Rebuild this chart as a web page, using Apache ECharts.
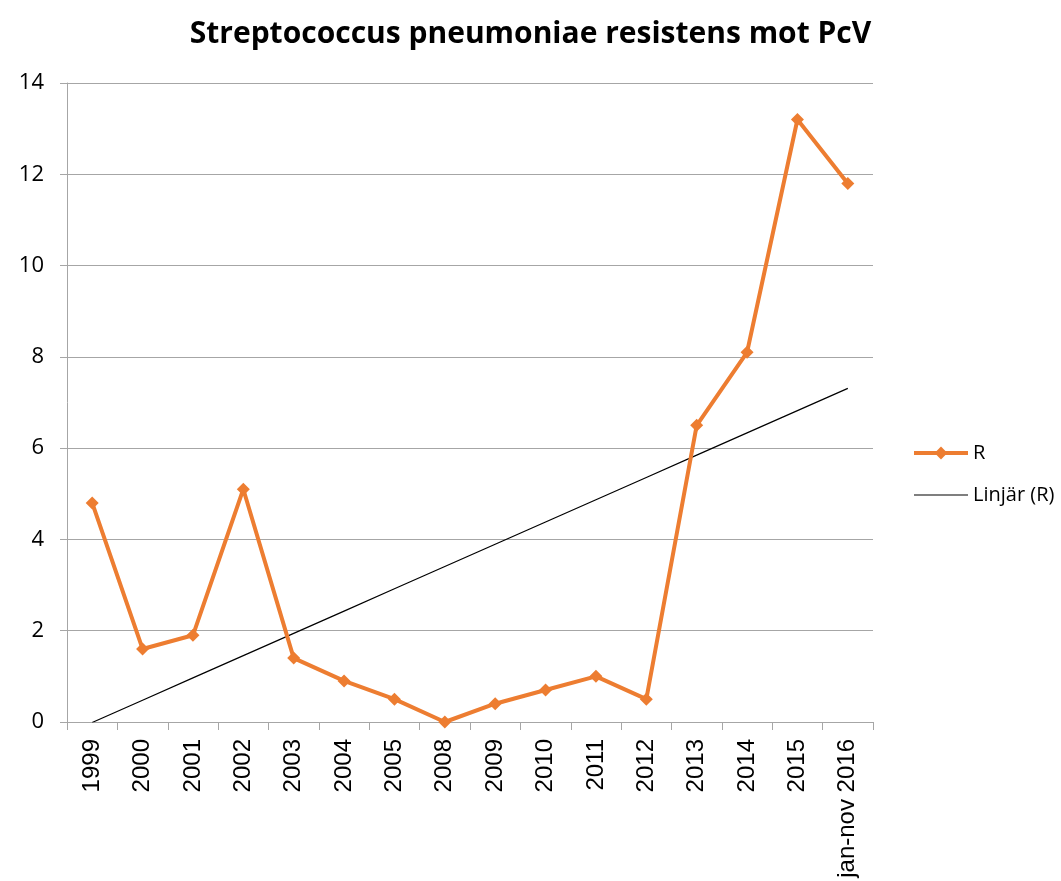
<!DOCTYPE html>
<html>
<head>
<meta charset="utf-8">
<script src="https://cdn.jsdelivr.net/npm/echarts@6/dist/echarts.min.js"></script>
<style>
  html, body { margin: 0; padding: 0; background: #fff; }
  #chart { width: 1061px; height: 881px; }
</style>
</head>
<body>
<div id="chart"></div>
<script>
  var years = ['1999', '2000', '2001', '2002', '2003', '2004', '2005', '2008',
    '2009', '2010', '2011', '2012', '2013', '2014', '2015', 'jan-nov 2016']
  var rValues = [4.8, 1.6, 1.9, 5.1, 1.4, 0.9, 0.5, 0.0, 0.4, 0.7, 1.0, 0.5, 6.5, 8.1, 13.2, 11.8]

  // linjär trendlinje (minsta kvadrat), som Excel
  function trend(vals) {
    var n = vals.length, sx = 0, sy = 0, sxy = 0, sxx = 0
    for (var i = 0; i < n; i++) {
      var x = i + 1
      sx += x; sy += vals[i]; sxy += x * vals[i]; sxx += x * x
    }
    var k = (n * sxy - sx * sy) / (n * sxx - sx * sx)
    var m = (sy - k * sx) / n
    return vals.map(function (v, i) { return +(m + k * (i + 1)).toFixed(3) })
  }

  var myChart = echarts.init(document.getElementById('chart'))
  var option = {
    animation: false,
    title: {
      text: 'Streptococcus pneumoniae resistens mot PcV',
      left: 'center',
      top: 14,
      textStyle: {
        fontFamily: 'Open Sans',
        fontWeight: 'bold',
        fontSize: 30,
        color: '#000'
      }
    },
    legend: {
      orient: 'vertical',
      left: 907,
      top: 438,
      itemWidth: 54,
      itemHeight: 16,
      itemGap: 22,
      textStyle: { fontFamily: 'Open Sans', fontSize: 20, color: '#000' },
      data: [
        { name: 'R', lineStyle: { width: 4 } },
        { name: 'Linjär (R)', icon: 'path://M0,0H54V1H0Z', itemStyle: { color: '#000' } }
      ]
    },
    grid: {
      left: 67,
      right: 188,
      top: 83,
      bottom: 159
    },
    xAxis: {
      type: 'category',
      data: years,
      boundaryGap: true,
      axisLine: { lineStyle: { color: '#a6a6a6', width: 1 } },
      axisTick: { show: true, length: 8, lineStyle: { color: '#a6a6a6' } },
      axisLabel: {
        rotate: 90,
        interval: 0,
        margin: 17,
        fontFamily: 'Liberation Sans',
        fontSize: 24,
        color: '#000'
      }
    },
    yAxis: {
      type: 'value',
      min: 0,
      max: 14,
      interval: 2,
      axisLine: { show: true, lineStyle: { color: '#a6a6a6', width: 1 } },
      axisTick: { show: true, length: 7, lineStyle: { color: '#a6a6a6' } },
      axisLabel: {
        margin: 23,
        fontFamily: 'Open Sans',
        fontSize: 22,
        color: '#000'
      },
      splitLine: { lineStyle: { color: '#a6a6a6', width: 1 } }
    },
    series: [
      {
        name: 'R',
        type: 'line',
        data: rValues,
        symbol: 'diamond',
        symbolSize: 13,
        lineStyle: { color: '#ed7d31', width: 4 },
        itemStyle: { color: '#ed7d31' },
        z: 3
      },
      {
        name: 'Linjär (R)',
        type: 'line',
        data: trend(rValues),
        showSymbol: false,
        symbol: 'none',
        lineStyle: { color: '#000', width: 1.2 },
        itemStyle: { color: '#000' },
        z: 2
      }
    ]
  }
  myChart.setOption(option)
</script>
</body>
</html>
